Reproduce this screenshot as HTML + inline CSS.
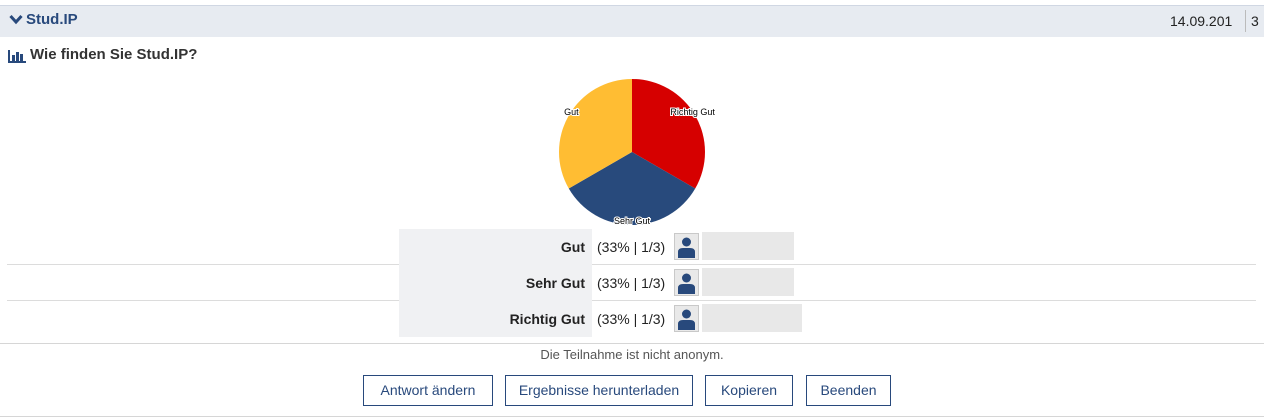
<!DOCTYPE html>
<html><head><meta charset="utf-8"><style>
body{margin:0;width:1267px;height:419px;background:#fff;font-family:"Liberation Sans",sans-serif;position:relative;overflow:hidden;color:#000}
.a{position:absolute}
.hdr{left:0;top:5px;width:1264px;height:31px;background:#e7ebf1;border-top:1px solid #d0d7e3}
.btn{position:absolute;top:375px;height:29px;border:1px solid #28497c;background:#fff;color:#28497c;font-size:14px;line-height:29px;text-align:center;box-sizing:content-box}
.lab{left:399px;width:186px;height:36px;background:#f0f1f3;text-align:right;padding-right:7px;font-weight:bold;font-size:14px;line-height:36px;color:#222}
.pct{left:597px;font-size:14px;line-height:36px;color:#222}
.av{left:674px;width:23px;height:25px;border:1px solid #c9c9c9;background:#e9e9e9}
.bar{left:702px;height:28px;background:#e8e8e8}
.sep{left:7px;width:1249px;height:1px;background:#dcdcdc}
</style></head><body>
<div class="a hdr"></div>
<div class="a" style="left:9px;top:13px;width:14px;height:12px"><svg width="14" height="12"><path d="M1.5 2 L7 8 L12.5 2" stroke="#28497c" stroke-width="3" fill="none"/></svg></div>
<div class="a" style="left:26px;top:11px;font-size:15px;font-weight:bold;color:#28497c">Stud.IP</div>
<div class="a" style="left:1170px;top:13px;font-size:14px;color:#222">14.09.201</div>
<div class="a" style="left:1245px;top:10px;width:1px;height:22px;background:#bbb"></div>
<div class="a" style="left:1251px;top:13px;font-size:14px;color:#222">3</div>
<div class="a" style="left:8px;top:48px"><svg width="18" height="15"><rect x="0" y="2" width="2" height="13" fill="#28497c"/><rect x="0" y="13" width="18" height="2" fill="#28497c"/><rect x="4" y="7" width="3" height="6" fill="#28497c"/><rect x="8" y="4" width="3" height="9" fill="#28497c"/><rect x="12" y="6" width="3" height="7" fill="#28497c"/></svg></div>
<div class="a" style="left:30px;top:46px;font-size:15px;font-weight:bold;color:#333">Wie finden Sie Stud.IP?</div>
<svg class="a" id="pie" style="left:0;top:0" width="1267" height="240"></svg>
<div class="a sep" style="top:264px"></div>
<div class="a sep" style="top:300px"></div>
<div id="rows"></div>
<div class="a" style="left:0;top:343px;width:1264px;height:1px;background:#d6d6d6"></div>
<div class="a" style="left:0;width:1264px;top:347px;text-align:center;font-size:13px;color:#555">Die Teilnahme ist nicht anonym.</div>
<div class="btn" style="left:363px;width:128px">Antwort ändern</div>
<div class="btn" style="left:505px;width:186px">Ergebnisse herunterladen</div>
<div class="btn" style="left:705px;width:86px">Kopieren</div>
<div class="btn" style="left:806px;width:83px">Beenden</div>
<div class="a" style="left:0;top:416px;width:1264px;height:1px;background:#d6d6d6"></div>
<script>
const categories=["Richtig Gut","Sehr Gut","Gut"];
const values=[1,1,1];
const colors=["#d60000","#284a7c","#ffbd33"];
const rowLabels=["Gut","Sehr Gut","Richtig Gut"];
const rowPercents=["(33% | 1/3)","(33% | 1/3)","(33% | 1/3)"];
const rowBarWidths=[92,92,100];
const NS="http://www.w3.org/2000/svg";
const svg=document.getElementById('pie');
const cx=632,cy=152,r=73;
const total=values.reduce((a,b)=>a+b,0);
let ang=0;
values.forEach((v,i)=>{
  const a0=ang,a1=ang+v/total*2*Math.PI;ang=a1;
  const x0=cx+r*Math.sin(a0),y0=cy-r*Math.cos(a0),x1=cx+r*Math.sin(a1),y1=cy-r*Math.cos(a1);
  const p=document.createElementNS(NS,'path');
  p.setAttribute('d',`M${cx} ${cy} L${x0} ${y0} A${r} ${r} 0 ${a1-a0>Math.PI?1:0} 1 ${x1} ${y1} Z`);
  p.setAttribute('fill',colors[i]);
  
  
  svg.appendChild(p);
});
ang=0;
values.forEach((v,i)=>{
  const a0=ang,a1=ang+v/total*2*Math.PI;ang=a1;const m=(a0+a1)/2;
  const t=document.createElementNS(NS,'text');
  const ly=cy-66*Math.cos(m);
  t.setAttribute('x',cx+70*Math.sin(m));t.setAttribute('y',(Math.cos(m)>0?ly-4:ly+6));
  t.setAttribute('text-anchor','middle');t.setAttribute('font-size','9');
  t.setAttribute('font-family','Liberation Sans, sans-serif');
  t.setAttribute('stroke','#fff');t.setAttribute('stroke-width','2');t.setAttribute('paint-order','stroke');
  t.textContent=categories[i];
  
  
  svg.appendChild(t);
});
const rows=document.getElementById('rows');
rowLabels.forEach((l,i)=>{
  const y=229+i*36;
  const h=`<div class="a lab" style="top:${y}px">${l}</div>
<div class="a pct" style="top:${y}px">${rowPercents[i]}</div>
<div class="a av" style="top:${y+4}px"><svg width="23" height="25"><circle cx="11.5" cy="8" r="4.5" fill="#28497c"/><path d="M3 24 L3 18 Q3 14 8 14 L15 14 Q20 14 20 18 L20 24 Z" fill="#28497c"/></svg></div>
<div class="a bar" style="top:${y+3}px;width:${rowBarWidths[i]}px"></div>`;
  rows.insertAdjacentHTML('beforeend',h);
});
</script>
</body></html>
